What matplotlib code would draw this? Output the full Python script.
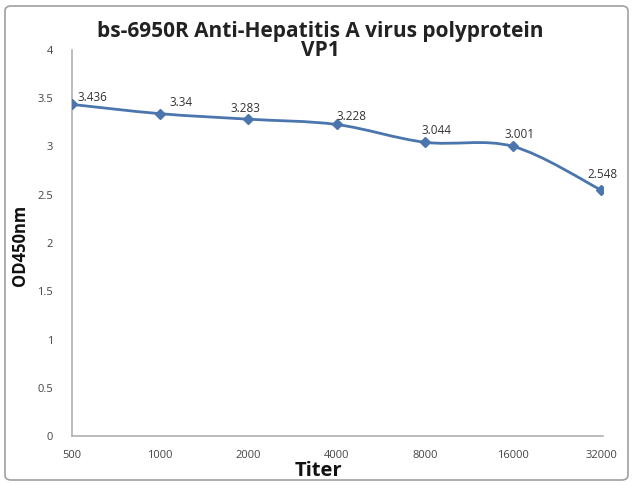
import matplotlib
matplotlib.use("Agg")
import matplotlib.pyplot as plt
from matplotlib.path import Path
from matplotlib.patches import PathPatch, FancyBboxPatch
import numpy as np

titers = ["500", "1000", "2000", "4000", "8000", "16000", "32000"]
od450 = [3.436, 3.34, 3.283, 3.228, 3.044, 3.001, 2.548]
y_ticks = [0, 0.5, 1, 1.5, 2, 2.5, 3, 3.5, 4]
y_tick_labels = ["0", "0.5", "1", "1.5", "2", "2.5", "3", "3.5", "4"]

plt.rcParams['font.family'] = ['Open Sans', 'DejaVu Sans']

fig = plt.figure(figsize=(6.34, 4.86), dpi=100)
ax = fig.add_axes([72/634, 50/486, 531/634, 386/486])

line_color = '#4a76ad'
x = np.arange(len(titers))
y = np.array(od450)

# smooth line (Catmull-Rom style Bezier, like Excel's smoothed line)
pts = np.column_stack([x, y]).astype(float)
verts = [tuple(pts[0])]
codes = [Path.MOVETO]
n = len(pts)
for i in range(n - 1):
    p0 = pts[i - 1] if i > 0 else pts[i]
    p1 = pts[i]
    p2 = pts[i + 1]
    p3 = pts[i + 2] if i + 2 < n else pts[i + 1]
    c1 = p1 + (p2 - p0) / 6.0
    c2 = p2 - (p3 - p1) / 6.0
    verts += [tuple(c1), tuple(c2), tuple(p2)]
    codes += [Path.CURVE4] * 3
ax.add_patch(PathPatch(Path(verts, codes), facecolor='none', edgecolor=line_color,
                       lw=2.0, transform=ax.transData, zorder=2))
ax.plot(x, y, linestyle='none', marker='D', markersize=5, color=line_color, zorder=3)

offsets = [(20, 7), (21, 11), (-3, 11), (15, 8), (12, 12), (7, 12), (1, 16)]
for xi, yi, lab, off in zip(x, y, od450, offsets):
    ax.annotate(f"{lab:g}", (xi, yi), xytext=off, textcoords='offset pixels',
                ha='center', va='center', fontsize=8.5, color='#333333')

ax.set_xlim(0, 6.02)
ax.set_ylim(0, 4)
ax.set_xticks(x)
ax.set_xticklabels(titers)
ax.set_yticks(y_ticks)
ax.set_yticklabels(y_tick_labels)
ax.tick_params(axis='both', length=0, labelsize=8, colors='#444444')
ax.tick_params(axis='y', pad=13.5)
ax.tick_params(axis='x', pad=10)
for s in ['top', 'right']:
    ax.spines[s].set_visible(False)
for s in ['left', 'bottom']:
    ax.spines[s].set_color('#b0b0b0')
    ax.spines[s].set_linewidth(1.2)

fig.text(20/634, 1 - 245/486, "OD450nm", rotation=90, ha='center', va='center',
         fontsize=12, fontweight='bold', color='#111111')
fig.text(318/634, 1 - 471/486, "Titer", ha='center', va='center',
         fontsize=14.5, fontweight='bold', color='#111111')

fig.text(320/634, 1 - 31/486, "bs-6950R Anti-Hepatitis A virus polyprotein",
         ha='center', va='center', fontsize=15, fontweight='bold', color='#222222')
fig.text(320/634, 1 - 51/486, "VP1",
         ha='center', va='center', fontsize=15, fontweight='bold', color='#222222')

border = FancyBboxPatch((5/634, 6/486), 623/634, 474/486,
                        boxstyle="round,pad=0,rounding_size=0.01",
                        transform=fig.transFigure, facecolor='none',
                        edgecolor='#a0a0a0', lw=1.2)
fig.patches.append(border)

fig.savefig("out.png", dpi=100)
